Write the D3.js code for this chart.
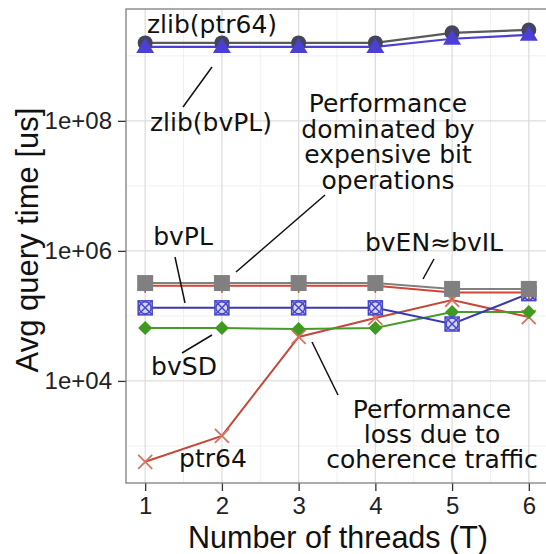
<!DOCTYPE html>
<html>
<head>
<meta charset="utf-8">
<script src="https://cdn.jsdelivr.net/npm/d3@7"></script>
<style>
html,body{margin:0;padding:0;background:#fff;}
svg{display:block;}
</style>
</head>
<body>
<svg id="chart" width="546" height="554"></svg>
<script>
const threads = [1, 2, 3, 4, 5, 6];
const zlibPtr64 = [1.58e9, 1.58e9, 1.58e9, 1.58e9, 2.26e9, 2.5e9];
const zlibBvPL = [1.37e9, 1.37e9, 1.37e9, 1.37e9, 1.83e9, 2.1e9];
const bvEN = [3.2e5, 3.2e5, 3.2e5, 3.2e5, 2.6e5, 2.6e5];
const bvIL = [2.9e5, 2.9e5, 2.9e5, 2.9e5, 2.3e5, 2.3e5];
const bvPL = [1.33e5, 1.33e5, 1.33e5, 1.33e5, 7.5e4, 2.2e5];
const bvSD = [6.5e4, 6.5e4, 6.3e4, 6.5e4, 1.15e5, 1.15e5];
const ptr64 = [570, 1430, 4.75e4, 9.3e4, 1.76e5, 9.6e4];
const yTickValues = [1e4, 1e6, 1e8];
const yTickLabels = ["1e+04", "1e+06", "1e+08"];
const yMinorValues = [1e3, 1e5, 1e7, 1e9];
const xMinorValues = [1.5, 2.5, 3.5, 4.5, 5.5];

const svg = d3.select("#chart");
const L = 126, R = 548, T = 9, B = 483;
const x = d3.scaleLinear().domain([0.75, 6.25]).range([L, R]);
const y = d3.scaleLog().domain([Math.pow(10, 2.43), Math.pow(10, 9.72)]).range([B, T]);

svg.append("rect").attr("x", L).attr("y", T).attr("width", R - L).attr("height", B - T).attr("fill", "#fff");

const grid = svg.append("g");
grid.selectAll("line.ymin").data(yMinorValues).join("line")
  .attr("x1", L).attr("x2", R).attr("y1", d => y(d)).attr("y2", d => y(d))
  .attr("stroke", "#f0f0f0").attr("stroke-width", 1);
grid.selectAll("line.xmin").data(xMinorValues).join("line")
  .attr("y1", T).attr("y2", B).attr("x1", d => x(d)).attr("x2", d => x(d))
  .attr("stroke", "#f0f0f0").attr("stroke-width", 1);
grid.selectAll("line.ymaj").data(yTickValues).join("line")
  .attr("x1", L).attr("x2", R).attr("y1", d => y(d)).attr("y2", d => y(d))
  .attr("stroke", "#dddddd").attr("stroke-width", 1.3);
grid.selectAll("line.xmaj").data(threads).join("line")
  .attr("y1", T).attr("y2", B).attr("x1", d => x(d)).attr("x2", d => x(d))
  .attr("stroke", "#dddddd").attr("stroke-width", 1.3);

const xAxis = d3.axisBottom(x).tickValues(threads).tickFormat(d3.format("d")).tickSize(8).tickPadding(6);
const yAxis = d3.axisLeft(y).tickValues(yTickValues).tickFormat((d, i) => yTickLabels[i]).tickSize(8).tickPadding(6);
const gx = svg.append("g").attr("transform", `translate(0,${B})`).call(xAxis);
const gy = svg.append("g").attr("transform", `translate(${L},0)`).call(yAxis);
[gx, gy].forEach(g => {
  g.select(".domain").remove();
  g.selectAll(".tick line").attr("stroke", "#333").attr("stroke-width", 1.3);
  g.selectAll(".tick text").attr("fill", "#222").style("font-family", "Liberation Sans, Arial, sans-serif").style("font-size", "24px");
});

svg.append("rect").attr("x", L).attr("y", T).attr("width", R - L).attr("height", B - T)
  .attr("fill", "none").attr("stroke", "#7f7f7f").attr("stroke-width", 1.3);

svg.append("text").attr("x", 338).attr("y", 548).attr("text-anchor", "middle")
  .style("font-family", "Liberation Sans, Arial, sans-serif").style("font-size", "30.5px").attr("fill", "#111")
  .text("Number of threads (T)");
svg.append("text").attr("transform", "translate(38,240) rotate(-90)").attr("text-anchor", "middle")
  .style("font-family", "Liberation Sans, Arial, sans-serif").style("font-size", "31px").attr("fill", "#111")
  .text("Avg query time [us]");

const line = d3.line().x((d, i) => x(threads[i])).y(d => y(d));
const plot = svg.append("g");

function series(vals, lineColor, width) {
  plot.append("path").datum(vals).attr("d", line).attr("fill", "none")
    .attr("stroke", lineColor).attr("stroke-width", width);
}

series(ptr64, "#c24a3a", 2);
series(bvSD, "#4a9a2a", 2);
series(bvPL, "#3b38b0", 2);
series(bvIL, "#d04535", 2);
series(bvEN, "#808080", 2);
series(zlibPtr64, "#5a5a5a", 2.2);
series(zlibBvPL, "#4b3fd6", 2.2);

const pts = vals => vals.map((v, i) => [x(threads[i]), y(v)]);

plot.selectAll("path.px").data(pts(ptr64)).join("path")
  .attr("d", d => `M${d[0]-7},${d[1]-7}L${d[0]+7},${d[1]+7}M${d[0]-7},${d[1]+7}L${d[0]+7},${d[1]-7}`)
  .attr("stroke", "#d8735f").attr("stroke-width", 1.8).attr("fill", "none");
plot.selectAll("path.sd").data(pts(bvSD)).join("path")
  .attr("d", d => `M${d[0]},${d[1]-7}L${d[0]+7},${d[1]}L${d[0]},${d[1]+7}L${d[0]-7},${d[1]}Z`)
  .attr("fill", "#3f9a22");
const pl = plot.selectAll("g.pl").data(pts(bvPL)).join("g");
pl.append("rect").attr("x", d => d[0]-7).attr("y", d => d[1]-7).attr("width", 14).attr("height", 14)
  .attr("fill", "#d6d6f2").attr("stroke", "#4646c8").attr("stroke-width", 1.5);
pl.append("circle").attr("cx", d => d[0]).attr("cy", d => d[1]).attr("r", 6)
  .attr("fill", "none").attr("stroke", "#4646c8").attr("stroke-width", 1.5);
pl.append("path").attr("d", d => `M${d[0]-7},${d[1]-7}L${d[0]+7},${d[1]+7}M${d[0]-7},${d[1]+7}L${d[0]+7},${d[1]-7}`)
  .attr("stroke", "#4646c8").attr("stroke-width", 1.5);
plot.selectAll("path.il").data(pts(bvIL)).join("path")
  .attr("d", d => `M${d[0]-7},${d[1]}L${d[0]+7},${d[1]}M${d[0]},${d[1]-7}L${d[0]},${d[1]+7}`)
  .attr("stroke", "#d04535").attr("stroke-width", 1.6);
plot.selectAll("rect.en").data(pts(bvEN)).join("rect")
  .attr("x", d => d[0]-8).attr("y", d => d[1]-8).attr("width", 16).attr("height", 16)
  .attr("fill", "#808080");
plot.selectAll("circle.zp").data(pts(zlibPtr64)).join("circle")
  .attr("cx", d => d[0]).attr("cy", d => d[1]).attr("r", 7.5).attr("fill", "#45455a");
plot.selectAll("path.zb").data(pts(zlibBvPL)).join("path")
  .attr("d", d => `M${d[0]},${d[1]-9}L${d[0]+9},${d[1]+6}L${d[0]-9},${d[1]+6}Z`)
  .attr("fill", "#4b3fd6");

const ann = svg.append("g").style("font-family", "DejaVu Sans, sans-serif").style("font-size", "25px").attr("fill", "#111");
function label(txt, cx, by) {
  ann.append("text").attr("x", cx).attr("y", by).attr("text-anchor", "middle").text(txt);
}
function leader(x1, y1, x2, y2) {
  svg.append("line").attr("x1", x1).attr("y1", y1).attr("x2", x2).attr("y2", y2)
    .attr("stroke", "#111").attr("stroke-width", 1.5);
}
label("zlib(ptr64)", 212, 33);
label("zlib(bvPL)", 211, 131);
leader(212, 67, 183, 107);
["Performance", "dominated by", "expensive bit", "operations"].forEach((t, i) => label(t, 388, 112 + i * 25.5));
leader(325, 195, 236, 272);
label("bvPL", 183, 245);
leader(175, 257, 185, 303);
label("bvEN≈bvIL", 434, 251);
leader(434, 259, 423, 279);
label("bvSD", 184, 375);
leader(212, 335, 182, 353);
label("ptr64", 213, 467);
["Performance", "loss due to", "coherence traffic"].forEach((t, i) => label(t, 432, 418 + i * 25));
leader(312, 342, 338, 395);
</script>
</body>
</html>
